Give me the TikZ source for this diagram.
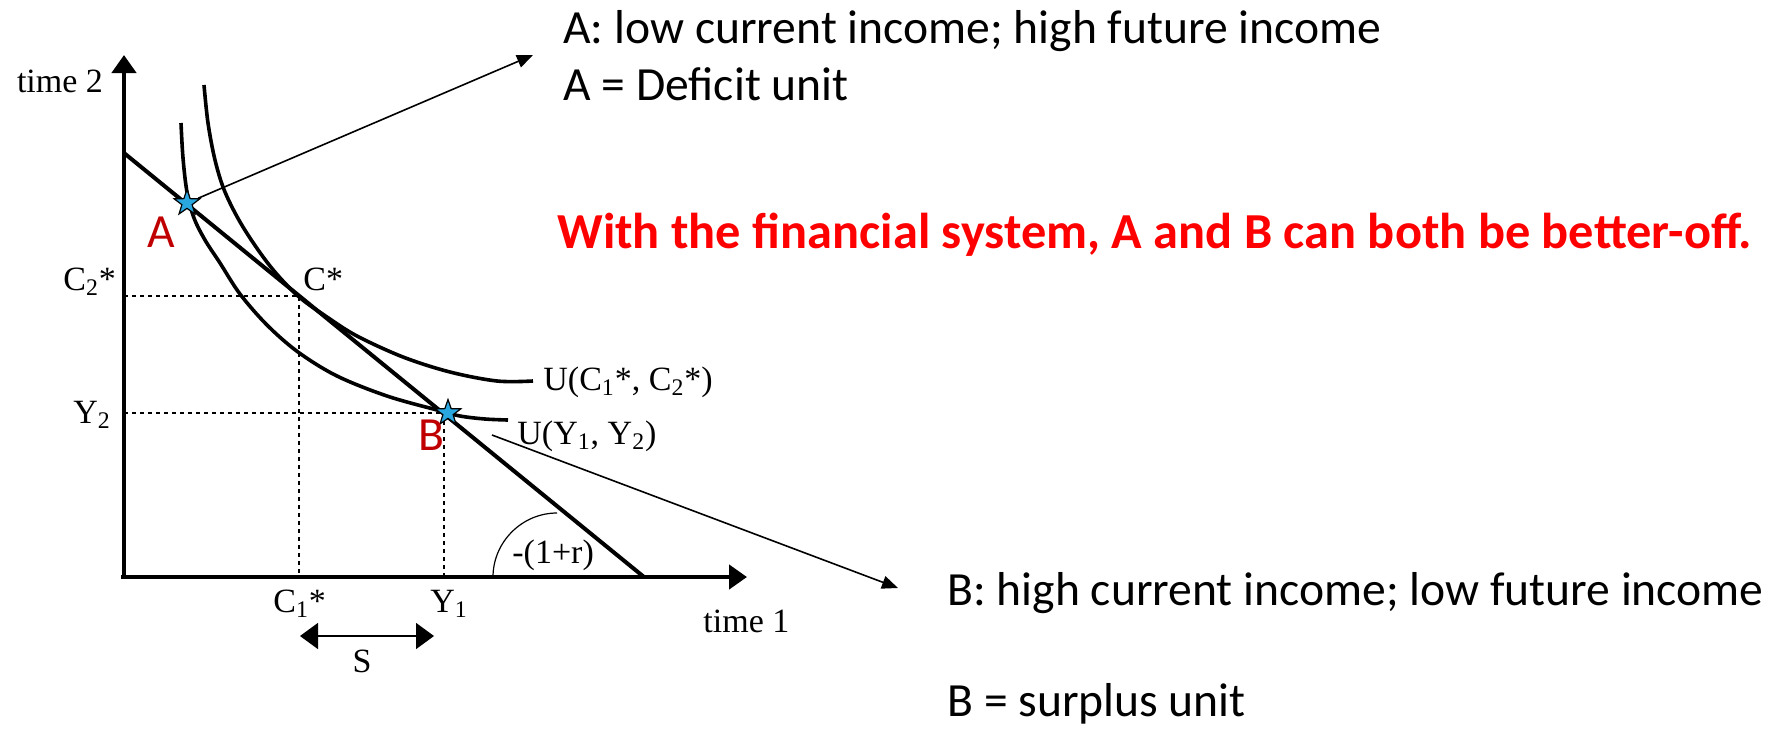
\documentclass[tikz,border=0pt]{standalone}
\usepackage{fontspec}
\setmainfont{Carlito}
\newfontfamily\tnr{Liberation Serif}
\usetikzlibrary{arrows.meta,shapes.geometric}
\definecolor{darkred}{HTML}{C00000}
\definecolor{starblue}{HTML}{2AA7DF}

\begin{document}
\begin{tikzpicture}[x=0.5pt,y=-0.5pt,>=Stealth,
  axis/.style={line width=2.2pt,-{Triangle[length=9pt,width=12pt]}},
  curve/.style={line width=1.8pt,line join=round},
  guide/.style={line width=0.6pt,dash pattern=on 2pt off 2pt},
  pointer/.style={line width=0.8pt,-{Triangle[length=8pt,width=6.5pt]}},
  tick/.style={font=\tnr\fontsize{17pt}{20pt}\selectfont,inner sep=0pt},
  note/.style={font=\fontsize{23.8pt}{28pt}\selectfont,inner sep=0pt,anchor=base west},
  claim/.style={note,font=\bfseries\fontsize{25.2pt}{30pt}\selectfont,text=red},
  unit/.style={note,text=darkred},
  spot/.style={star,star points=5,star point ratio=2.5,draw=black,line width=0.6pt,
    fill=starblue,minimum size=13.5pt,inner sep=0pt}]
  \useasboundingbox (0,0) rectangle (1775,729);

  % axes and budget line
  \coordinate (O) at (124,577);
  \coordinate (ytop) at (124,55);
  \coordinate (xend) at (747,577);
  \coordinate (bTop) at (124,153);
  \coordinate (bEnd) at (644,577);
  \coordinate (Cs) at (299,296);
  \coordinate (C2) at (124,296);
  \coordinate (C1) at (299,577);
  \coordinate (By) at (124,413);
  \coordinate (Bp) at (444,413);
  \coordinate (Bx) at (444,577);

  \draw[guide] (C2) -- (Cs) -- (C1);
  \draw[guide] (By) -- (Bp) -- (Bx);

  \draw[curve] plot[smooth,tension=0.55] coordinates {(204,85) (208,123) (215,160)
    (225,192) (243,227) (270,266) (298,296) (327,317) (357,336) (403,357)
    (450,372) (497,381) (533,381)};
  \draw[curve] plot[smooth,tension=0.55] coordinates {(181,123) (183,158) (187,192)
    (194,218) (205,240) (220,263) (240,294) (267,325) (298,352)
    (337,376) (387,396) (437,410) (460,416) (485,419) (508,420)};
  \draw[curve,line width=2pt] (bTop) -- (bEnd);
  \draw[axis] (O) -- (ytop);
  \draw[axis] ([xshift=-1.5]O) -- (xend);

  % slope arc
  \coordinate (arcA) at (493,577);
  \coordinate (arcB) at (557,513);
  \draw[line width=0.6pt] (arcA) .. controls (493,542) and (522,513) .. (arcB);

  % saving
  \coordinate (sL) at (300,636);
  \coordinate (sR) at (434,636);
  \draw[line width=0.8pt,{Triangle[length=9pt,width=13pt]}-{Triangle[length=9pt,width=13pt]}] (sL) -- (sR);

  % axis labels
  \node[tick,anchor=base] (t2) at (60,92) {time 2};
  \node[tick,anchor=base west] (c2) at (63,290) {C\textsubscript{2}*};
  \node[tick,anchor=base west] (cs) at (303,290) {C*};
  \node[tick,anchor=base west] (y2) at (73,423) {Y\textsubscript{2}};
  \node[tick,anchor=base west] (uc) at (543,390) {U(C\textsubscript{1}*, C\textsubscript{2}*)};
  \node[tick,anchor=base west] (uy) at (517,444) {U(Y\textsubscript{1}, Y\textsubscript{2})};
  \node[tick,anchor=base west] (rate) at (512,563) {-(1+r)};
  \node[tick,anchor=base west] (c1) at (273,612) {C\textsubscript{1}*};
  \node[tick,anchor=base west] (y1) at (430,612) {Y\textsubscript{1}};
  \node[tick,anchor=base] (s) at (362,672) {S};
  \node[tick,anchor=base west] (t1) at (703,632) {time 1};

  % the two units
  \node[spot] (ptA) at (187,203) {};
  \node[spot] (ptB) at (448,413) {};
  \node[unit] (labA) at (147,247) {A};
  \node[unit] (labB) at (418,450) {B};

  \node[note] (noteA1) at (563,43) {A: low current income; high future income};
  \node[note] (noteA2) at (563,100) {A = Deficit unit};
  \node[claim] (msg) at (557,248) {With the financial system, A and B can both be better-off.};
  \node[note] (noteB1) at (947,605) {B: high current income; low future income};
  \node[note] (noteB2) at (947,716) {B = surplus unit};

  \coordinate (tipA) at (533,55);
  \coordinate (tailB) at (492,435);
  \coordinate (tipB) at (898,588);
  \draw[pointer] (ptA) -- (tipA);
  \draw[pointer] (tailB) -- (tipB);
\end{tikzpicture}
\end{document}
